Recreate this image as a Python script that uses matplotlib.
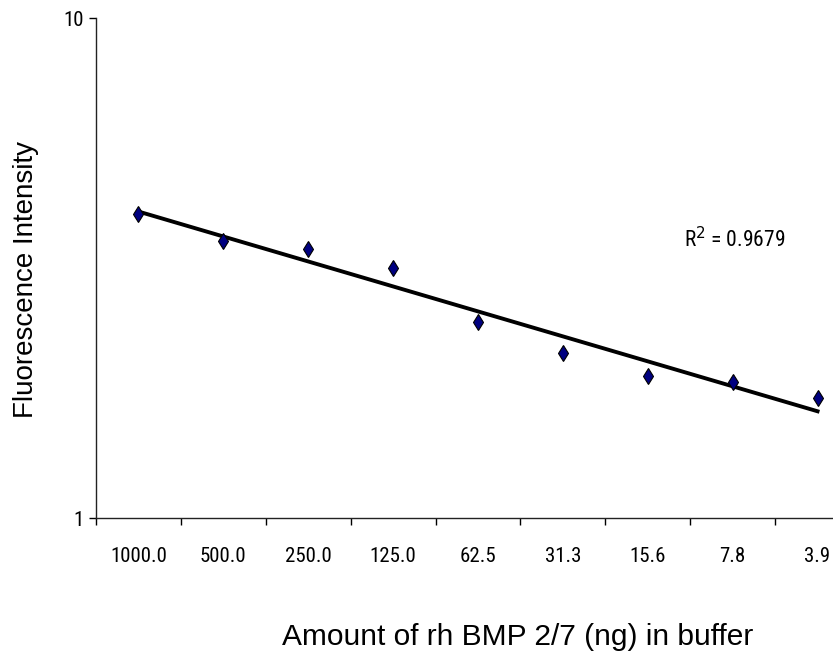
import numpy as np
import matplotlib
matplotlib.use("Agg")
import matplotlib.pyplot as plt
from matplotlib import font_manager

# data
amounts = ["1000.0", "500.0", "250.0", "125.0", "62.5", "31.3", "15.6", "7.8", "3.9"]
intensity = [4.06, 3.58, 3.45, 3.16, 2.47, 2.14, 1.92, 1.87, 1.74]
r2_text = "R$^2$ = 0.9679"


def find_narrow():
    # look for an upright condensed sans face, otherwise plain Liberation Sans
    fonts = font_manager.fontManager.ttflist
    for wanted in ("Liberation Sans Narrow", "Arial Narrow", "Roboto Condensed"):
        for f in fonts:
            if f.name == wanted and f.style == "normal" and f.weight in (400, "normal", "regular"):
                return font_manager.FontProperties(fname=f.fname), True
    for f in fonts:
        if (f.name == "DejaVu Sans" and "condensed" in str(f.stretch)
                and f.weight in (400, "normal") and f.style == "normal"):
            return font_manager.FontProperties(fname=f.fname), True
    return font_manager.FontProperties(family="Liberation Sans"), False


narrow_fp, is_narrow = find_narrow()
tick_size = 15 if is_narrow else 14
label_font = "Liberation Sans"

x = np.arange(len(amounts))
y = np.array(intensity)

# exponential trend line (linear fit of log10 values)
k, b = np.polyfit(x, np.log10(y), 1)
trend = 10 ** (k * x + b)

fig = plt.figure(figsize=(8.33, 6.54), dpi=100)
ax = fig.add_axes([96 / 833, 1 - 518 / 654, 764 / 833, 500 / 654])

ax.plot(x, trend, color="black", lw=2.8, zorder=2)
ax.plot(x, y, linestyle="none", marker="d", markersize=8,
        markerfacecolor="#000080", markeredgecolor="black",
        markeredgewidth=0.8, zorder=3)

ax.set_yscale("log")
ax.set_ylim(1, 10)
ax.set_xlim(-0.5, len(amounts) - 0.5)

ax.yaxis.set_major_locator(matplotlib.ticker.FixedLocator([1, 10]))
ax.yaxis.set_minor_locator(matplotlib.ticker.NullLocator())
ax.yaxis.set_major_formatter(matplotlib.ticker.FixedFormatter(["1", "10"]))

ax.set_xticks(np.arange(-0.5, len(amounts) + 0.5, 1.0))
ax.set_xticklabels([])
ax.set_xticks(x, minor=True)
ax.set_xticklabels(amounts, minor=True)
ax.tick_params(axis="x", which="major", length=5, width=1, direction="out")
ax.tick_params(axis="x", which="minor", length=0, pad=21)
ax.tick_params(axis="y", which="major", length=5, width=1, pad=4)

for lbl in ax.get_xticklabels(minor=True) + ax.get_yticklabels():
    lbl.set_fontproperties(narrow_fp)
    lbl.set_fontsize(tick_size)

for side in ["top", "right"]:
    ax.spines[side].set_visible(False)
for side in ["left", "bottom"]:
    ax.spines[side].set_linewidth(1)
    ax.spines[side].set_color("#222222")

fig.text(26 / 833, 1 - 280 / 654, "Fluorescence Intensity", rotation=90,
         ha="center", va="center", fontsize=20, family=label_font)
fig.text(518 / 833, 1 - 637 / 654, "Amount of rh BMP 2/7 (ng) in buffer",
         ha="center", va="center", fontsize=21.5, family=label_font)
r2 = fig.text(735 / 833, 1 - 240 / 654, r2_text, ha="center", va="center",
              fontproperties=narrow_fp)
r2.set_fontsize(tick_size + 0.5)

fig.savefig("out.png", dpi=100)
